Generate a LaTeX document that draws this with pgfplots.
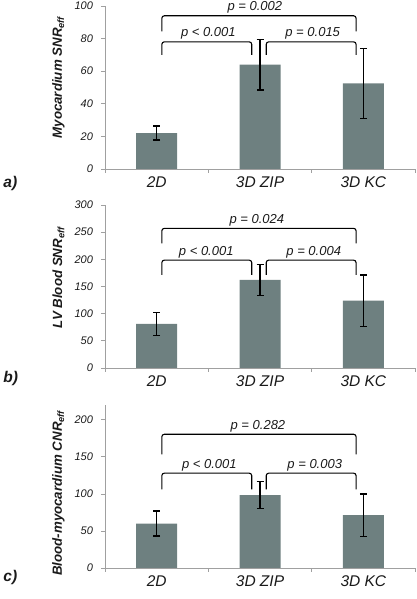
\documentclass[border=0pt]{standalone}
\usepackage{fontspec}
\setmainfont{Liberation Sans}
\usepackage{pgfplots}
\pgfplotsset{compat=1.18}
\definecolor{barc}{HTML}{6E8080}
\definecolor{axc}{HTML}{A0A0A0}
\definecolor{txt}{HTML}{1A1A1A}
\pgfplotsset{
 panel/.style={
  scale only axis, width=310pt, height=163pt, anchor=south west,
  xmin=-0.5, xmax=2.5, ymin=0,
  axis x line*=bottom, axis y line*=left,
  axis line style={axc, line width=0.8pt},
  xtick={0,1,2}, xticklabels={2D,3D ZIP,3D KC},
  minor xtick={-0.5,0.5,1.5,2.5},
  major x tick style={draw=none},
  minor x tick style={axc, line width=0.8pt},
  ytick style={axc, line width=0.8pt},
  tick align=outside, major tick length=4pt, minor tick length=4pt,
  /pgf/number format/assume math mode=true,
  xticklabel style={font=\itshape\fontsize{15.5}{16}\selectfont, text=txt},
  yticklabel style={font=\itshape\fontsize{11}{12}\selectfont, text=txt, xshift=-4.5pt},
  ylabel style={anchor=center, font=\bfseries\itshape\fontsize{13.3}{14}\selectfont, text=txt},
  clip=false,
 },
 bars/.style={ybar, bar width=41pt, fill=barc, draw=none,
  error bars/.cd, y dir=both, y explicit,
  error bar style={black, line width=1.4pt},
  error mark options={rotate=90, black, mark size=3.5pt, line width=1.4pt}},
 brk/.style={black, line width=1.1pt, rounded corners=2.5pt, sharp plot, no marks},
}
\tikzset{
 plab/.style={anchor=south, inner sep=1pt, yshift=1pt, font=\itshape\fontsize{13}{14}\selectfont, text=txt},
 letter/.style={anchor=west, font=\bfseries\itshape\fontsize{15.5}{16}\selectfont, text=txt},
}
\begin{document}
\begin{tikzpicture}
\useasboundingbox (0,0) rectangle (416pt,599pt);
% ---------- a ----------
\begin{axis}[panel, at={(105pt,430pt)}, ymax=100, ytick={0,20,...,100},
  ylabel={Myocardium SNR\textsubscript{eff}},
  ylabel style={at={(axis description cs:-0.150,0.561)}}]
\addplot[bars] coordinates {(0,22) +- (0,4.3) (1,64) +- (0,15.5) (2,52.5) +- (0,21.5)};
\addplot[brk] coordinates {(0.05,70) (0.05,78) (0.92,78) (0.92,70)};
\addplot[brk] coordinates {(1.06,70) (1.06,78) (1.93,78) (1.93,70)};
\addplot[brk] coordinates {(0.05,84.5) (0.05,94) (1.93,94) (1.93,84.5)};
\node[plab] at (axis cs:0.5,78) {p < 0.001};
\node[plab] at (axis cs:1.51,78) {p = 0.015};
\node[plab] at (axis cs:0.95,94) {p = 0.002};
\node[letter] at (axis description cs:-0.339,-0.086) {a)};
\end{axis}
% ---------- b ----------
\begin{axis}[panel, at={(105pt,231pt)}, ymax=300, ytick={0,50,...,300},
  ylabel={LV Blood SNR\textsubscript{eff}},
  ylabel style={at={(axis description cs:-0.150,0.554)}}]
\addplot[bars] coordinates {(0,81) +- (0,21) (1,162) +- (0,29) (2,124) +- (0,47.5)};
\addplot[brk] coordinates {(0.05,171.5) (0.05,198.5) (0.92,198.5) (0.92,171.5)};
\addplot[brk] coordinates {(1.06,171.5) (1.06,198.5) (1.93,198.5) (1.93,171.5)};
\addplot[brk] coordinates {(0.05,229.5) (0.05,257) (1.93,257) (1.93,229.5)};
\node[plab] at (axis cs:0.48,198.5) {p < 0.001};
\node[plab] at (axis cs:1.52,198.5) {p = 0.004};
\node[plab] at (axis cs:0.97,257) {p = 0.024};
\node[letter] at (axis description cs:-0.339,-0.065) {b)};
\end{axis}
% ---------- c ----------
\begin{axis}[panel, at={(105pt,31pt)}, ymax=220, ytick={0,50,...,200},
  ylabel={Blood-myocardium CNR\textsubscript{eff}},
  ylabel style={at={(axis description cs:-0.150,0.459)}}]
\addplot[bars] coordinates {(0,60) +- (0,17) (1,98.5) +- (0,18.3) (2,71.5) +- (0,28.6)};
\addplot[brk] coordinates {(0.05,106) (0.05,128) (0.92,128) (0.92,106)};
\addplot[brk] coordinates {(1.06,106) (1.06,128) (1.93,128) (1.93,106)};
\addplot[brk] coordinates {(0.05,153.5) (0.05,180.5) (1.93,180.5) (1.93,153.5)};
\node[plab] at (axis cs:0.51,128) {p < 0.001};
\node[plab] at (axis cs:1.53,128) {p = 0.003};
\node[plab] at (axis cs:0.98,180.5) {p = 0.282};
\node[letter] at (axis description cs:-0.339,-0.06) {c)};
\end{axis}
\end{tikzpicture}
\end{document}
